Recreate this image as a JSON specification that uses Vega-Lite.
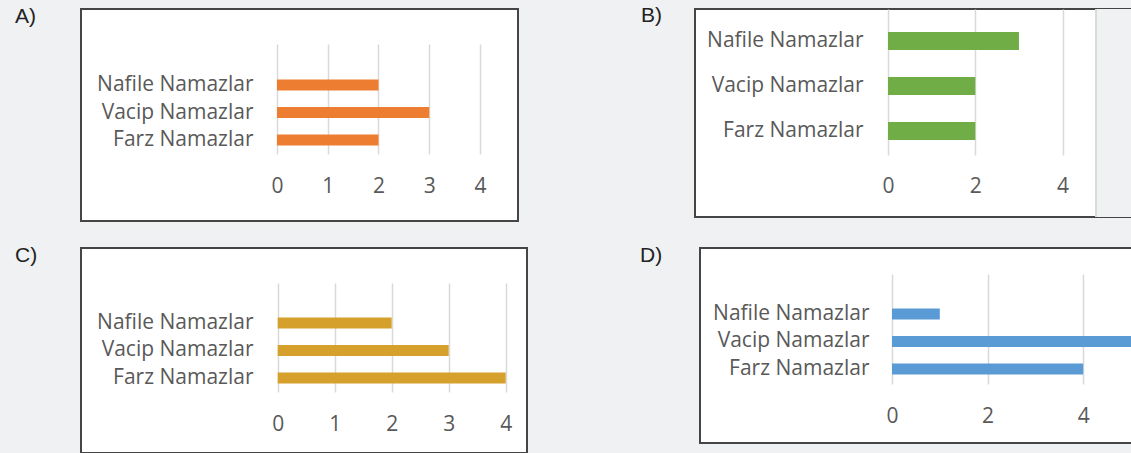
{
  "$schema": "https://vega.github.io/schema/vega-lite/v6.json",
  "background": "#f0f1f3",
  "padding": {"left": 14, "top": 4, "right": 0, "bottom": 0},
  "autosize": {"type": "pad"},
  "spacing": 22,
  "config": {
    "view": {"fill": "white", "stroke": "#454545", "strokeWidth": 2},
    "axis": {"labelFont": "Open Sans", "labelFontSize": 21, "labelColor": "#595959", "gridColor": "#d9d9d9", "gridWidth": 1.5, "domain": false, "ticks": false, "title": null, "labelPadding": 0, "labelLimit": 400},
    "title": {"font": "Liberation Sans", "fontSize": 21, "fontWeight": "normal", "color": "#222222", "anchor": "start", "orient": "top", "offset": -18, "baseline": "top", "frame": "group"}
  },
  "vconcat": [
    {
      "bounds": "flush",
      "spacing": 177,
      "hconcat": [
        {
          "width": 437, "height": 212,
          "title": {"text": "A)", "dx": -66},
          "data": {"values": [
            {"namaz": "Nafile Namazlar", "sayi": 2},
            {"namaz": "Vacip Namazlar", "sayi": 3},
            {"namaz": "Farz Namazlar", "sayi": 2}
          ]},
          "mark": {"type": "bar", "color": "#ed7d31"},
          "encoding": {
            "x": {"field": "sayi", "type": "quantitative",
              "scale": {"domain": [-3.862, 4.749], "nice": false, "zero": false},
              "axis": {"orient": "top", "offset": -177, "values": [0, 1, 2, 3, 4], "grid": true, "labelBaseline": "middle", "labelFlush": false, "zindex": 0}},
            "y": {"field": "namaz", "type": "nominal", "sort": ["Nafile Namazlar", "Vacip Namazlar", "Farz Namazlar"],
              "scale": {"range": [35, 145], "paddingInner": 0.6, "paddingOuter": 0.8, "align": 0.807, "round": false},
              "axis": {"orient": "left", "offset": -172}}
          }
        },
        {
          "width": 436, "height": 208,
          "title": {"text": "B)", "dx": -54},
          "view": {"strokeDash": [436, 208, 644]},
          "layer": [
            {
              "data": {"values": [{}]},
              "mark": {"type": "rect", "color": "#f0f1f3"},
              "encoding": {"x": {"datum": 4.765}, "x2": {"datum": 5.567}}
            },
            {
              "data": {"values": [{}]},
              "mark": {"type": "rule", "color": "#d9d9d9", "strokeWidth": 2},
              "encoding": {"x": {"datum": 4.765}}
            },
            {
              "data": {"values": [
                {"namaz": "Nafile Namazlar", "sayi": 3},
                {"namaz": "Vacip Namazlar", "sayi": 2},
                {"namaz": "Farz Namazlar", "sayi": 2}
              ]},
              "mark": {"type": "bar", "color": "#70ad47"},
              "encoding": {
                "x": {"field": "sayi", "type": "quantitative",
                  "scale": {"domain": [-4.422, 5.567], "nice": false, "zero": false},
                  "axis": {"orient": "top", "offset": -177, "values": [0, 2, 4], "grid": true, "labelBaseline": "middle", "labelFlush": false, "zindex": 0}},
                "y": {"field": "namaz", "type": "nominal", "sort": ["Nafile Namazlar", "Vacip Namazlar", "Farz Namazlar"],
                  "scale": {"range": [0, 146], "paddingInner": 0.6, "paddingOuter": 0.422, "align": 0.605, "round": false},
                  "axis": {"orient": "left", "offset": -168}}
              }
            }
          ]
        }
      ]
    },
    {
      "bounds": "flush",
      "spacing": 173,
      "hconcat": [
        {
          "width": 446, "height": 205,
          "title": {"text": "C)", "dx": -66},
          "data": {"values": [
            {"namaz": "Nafile Namazlar", "sayi": 2},
            {"namaz": "Vacip Namazlar", "sayi": 3},
            {"namaz": "Farz Namazlar", "sayi": 4}
          ]},
          "mark": {"type": "bar", "color": "#d5a02b"},
          "encoding": {
            "x": {"field": "sayi", "type": "quantitative",
              "scale": {"domain": [-3.451, 4.374], "nice": false, "zero": false},
              "axis": {"orient": "top", "offset": -176, "values": [0, 1, 2, 3, 4], "grid": true, "labelBaseline": "middle", "labelFlush": false, "zindex": 0}},
            "y": {"field": "namaz", "type": "nominal", "sort": ["Nafile Namazlar", "Vacip Namazlar", "Farz Namazlar"],
              "scale": {"range": [35, 144], "paddingInner": 0.6, "paddingOuter": 0.782, "align": 0.802, "round": false},
              "axis": {"orient": "left", "offset": -172}}
          }
        },
        {
          "width": 431, "height": 195,
          "title": {"text": "D)", "dx": -60},
          "view": {"strokeDash": [431, 195, 626]},
          "data": {"values": [
            {"namaz": "Nafile Namazlar", "sayi": 1},
            {"namaz": "Vacip Namazlar", "sayi": 5},
            {"namaz": "Farz Namazlar", "sayi": 4}
          ]},
          "mark": {"type": "bar", "color": "#5b9bd5"},
          "encoding": {
            "x": {"field": "sayi", "type": "quantitative",
              "scale": {"domain": [-4.017, 5.0], "nice": false, "zero": false},
              "axis": {"orient": "top", "offset": -168, "values": [0, 2, 4], "grid": true, "labelBaseline": "middle", "labelFlush": false, "zindex": 0}},
            "y": {"field": "namaz", "type": "nominal", "sort": ["Nafile Namazlar", "Vacip Namazlar", "Farz Namazlar"],
              "scale": {"range": [26, 136], "paddingInner": 0.6, "paddingOuter": 0.8, "align": 0.784, "round": false},
              "axis": {"orient": "left", "offset": -169}}
          }
        }
      ]
    }
  ]
}
